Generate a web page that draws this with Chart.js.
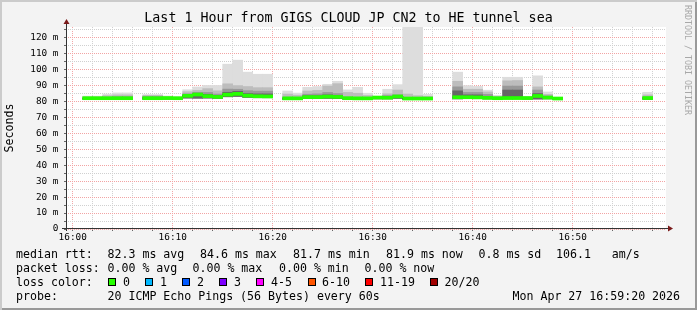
<!DOCTYPE html>
<html>
<head>
<meta charset="utf-8">
<script src="https://cdn.jsdelivr.net/npm/chart.js@4.4.1/dist/chart.umd.min.js"></script>
<style>
  html, body { margin: 0; padding: 0; background: #f3f3f3; }
  #frame { position: relative; width: 697px; height: 310px; background: #f3f3f3; overflow: hidden;
           box-shadow: inset 2px 2px 0 #cbcbcb, inset -2px -2px 0 #999; }
  #chart { position: absolute; left: 0; top: 0; }
  .lg { position: absolute; font: 11.6px 'DejaVu Sans Mono', monospace; line-height: 14px; white-space: pre; color: #000; }
  .box { position: absolute; top: 278px; width: 8px; height: 8px; box-sizing: border-box; border: 1px solid #000; }
  #mark { position: absolute; left: 683px; top: 5px; writing-mode: vertical-rl; font: 8.3px 'DejaVu Sans Mono', monospace;
          line-height: 10px; color: #a8a8a8; white-space: pre; }
</style>
</head>
<body>
<div id="frame">
  <canvas id="chart" width="697" height="310"></canvas>
  <div id="mark">RRDTOOL / TOBI OETIKER</div>

  <div class="lg" style="left:16px;top:247px">median rtt:</div>
  <div class="lg" style="left:107.5px;top:247px">82.3 ms avg</div>
  <div class="lg" style="left:200px;top:247px">84.6 ms max</div>
  <div class="lg" style="left:293px;top:247px">81.7 ms min</div>
  <div class="lg" style="left:386px;top:247px">81.9 ms now</div>
  <div class="lg" style="left:478.5px;top:247px">0.8 ms sd</div>
  <div class="lg" style="left:556px;top:247px">106.1   am/s</div>

  <div class="lg" style="left:16px;top:261px">packet loss:</div>
  <div class="lg" style="left:107.5px;top:261px">0.00 % avg</div>
  <div class="lg" style="left:192.5px;top:261px">0.00 % max</div>
  <div class="lg" style="left:279px;top:261px">0.00 % min</div>
  <div class="lg" style="left:364.5px;top:261px">0.00 % now</div>

  <div class="lg" style="left:16px;top:274.5px">loss color:</div>
  <div class="box" style="left:108px;background:#26ff00"></div><div class="lg" style="left:123px;top:274.5px">0</div>
  <div class="box" style="left:145px;background:#00b8ff"></div><div class="lg" style="left:160px;top:274.5px">1</div>
  <div class="box" style="left:182px;background:#0059ff"></div><div class="lg" style="left:197px;top:274.5px">2</div>
  <div class="box" style="left:219px;background:#7e00ff"></div><div class="lg" style="left:234px;top:274.5px">3</div>
  <div class="box" style="left:256px;background:#ff00ff"></div><div class="lg" style="left:271px;top:274.5px">4-5</div>
  <div class="box" style="left:307.5px;background:#ff5500"></div><div class="lg" style="left:322px;top:274.5px">6-10</div>
  <div class="box" style="left:365px;background:#ff0000"></div><div class="lg" style="left:380px;top:274.5px">11-19</div>
  <div class="box" style="left:430px;background:#a10000"></div><div class="lg" style="left:444.5px;top:274.5px">20/20</div>

  <div class="lg" style="left:16px;top:288.5px">probe:</div>
  <div class="lg" style="left:107.5px;top:288.5px">20 ICMP Echo Pings (56 Bytes) every 60s</div>
  <div class="lg" style="left:512.5px;top:288.5px">Mon Apr 27 16:59:20 2026</div>
</div>

<script>
// Last hour of pings, one 60 s step per slot, minutes counted from 16:00
const stepMinute = [1, 2, 3, 4, 5,
  7, 8, 9, 10, 11, 12, 13, 14, 15, 16, 17, 18, 19,
  21, 22, 23, 24, 25, 26, 27, 28, 29, 30, 31, 32, 33, 34, 35,
  38, 39, 40, 41, 42, 43, 44, 45, 46, 47, 48,
  57];

// median rtt (ms)
const median = [81.9, 81.9, 81.9, 81.9, 81.9,
  81.9, 81.9, 82.0, 81.9, 83.4, 84.2, 83.2, 82.7, 84.1, 84.6, 83.5, 83.1, 83.0,
  81.8, 81.8, 82.6, 82.6, 82.9, 82.7, 81.9, 81.8, 81.8, 82.3, 82.2, 83.0, 81.7, 81.7, 81.7,
  82.5, 82.5, 82.4, 82.1, 81.9, 82.0, 82.0, 82.0, 83.3, 82.3, 81.7,
  82.0];

// smoke: fastest and slowest ping of each step
const pingMin = [81.2, 81.2, 81.2, 81.2, 81.2,
  81.2, 81.2, 81.3, 81.3, 82.0, 81.9, 82.0, 81.8, 82.8, 83.0, 82.4, 82.2, 82.2,
  81.0, 81.0, 81.6, 81.6, 81.8, 81.6, 81.2, 81.0, 81.1, 81.5, 81.5, 81.8, 81.0, 81.0, 81.0,
  81.5, 81.8, 81.8, 81.5, 81.2, 81.5, 81.5, 81.3, 81.4, 81.5, 81.2,
  81.2];
const pingMax = [83.2, 83.2, 84.5, 85.2, 85.2,
  84.2, 84.2, 83.3, 82.8, 87.2, 88.9, 89.9, 89.9, 103.2, 105.7, 98.2, 96.9, 96.9,
  86.4, 85.1, 88.7, 89.2, 90.6, 92.5, 87.1, 88.7, 85.0, 83.1, 87.5, 90.4, 140, 140, 84.3,
  98.2, 89.8, 89.3, 86.9, 83.7, 95.0, 95.0, 83.0, 95.9, 85.8, 82.3,
  85.6];

// inner smoke bands (upper edges, darker towards the middle pings)
const upperQ = [82.6, 82.6, 83.5, 84.0, 84.0,
  83.7, 83.7, 82.6, 82.4, 86.0, 86.8, 87.9, 86.5, 90.9, 89.8, 89.2, 88.5, 88.5,
  84.5, 83.8, 86.4, 86.8, 89.5, 91.0, 85.5, 85.0, 83.6, 82.8, 84.7, 87.0, 84.5, 83.5, 83.0,
  92.5, 87.5, 87.5, 85.8, 83.0, 92.8, 93.0, 82.6, 89.0, 84.3, 82.2,
  84.0];
const upperMid = [82.0, 82.0, 82.3, 82.8, 82.8,
  83.0, 83.0, 82.0, 82.0, 84.6, 85.6, 85.5, 84.5, 87.6, 87.5, 86.6, 86.3, 86.3,
  82.5, 82.3, 84.4, 84.6, 85.5, 84.8, 82.6, 82.4, 82.2, 82.5, 83.5, 84.0, 82.4, 82.3, 82.2,
  89.0, 85.5, 85.5, 84.3, 82.5, 89.5, 89.5, 82.3, 87.0, 83.3, 82.0,
  82.6];
const upperCore = [81.9, 81.9, 81.9, 82.2, 82.2,
  82.4, 82.4, 81.9, 81.9, 83.9, 84.8, 84.3, 83.6, 85.6, 86.2, 84.8, 84.6, 84.6,
  81.9, 81.9, 83.4, 83.4, 84.0, 83.6, 81.9, 81.9, 81.8, 82.3, 82.5, 83.2, 81.8, 81.8, 81.8,
  86.5, 84.0, 84.0, 83.0, 82.0, 87.0, 87.0, 82.1, 84.8, 82.7, 81.8,
  82.1];

// axis ticks
const gridMinutes = [0, 2, 4, 6, 8, 10, 12, 14, 16, 18, 20, 22, 24, 26, 28, 30, 32, 34, 36, 38, 40, 42, 44, 46, 48, 50, 52, 54, 56, 58];
const timeLabels = ['16:00', '16:10', '16:20', '16:30', '16:40', '16:50'];
const gridMs = [0, 5, 10, 15, 20, 25, 30, 35, 40, 45, 50, 55, 60, 65, 70, 75, 80, 85, 90, 95, 100, 105, 110, 115, 120, 125];
const msLabels = ['0', '10 m', '20 m', '30 m', '40 m', '50 m', '60 m', '70 m', '80 m', '90 m', '100 m', '110 m', '120 m'];

const xMin = -0.67, xMax = 59.33;   // 15:59:20 .. 16:59:20
const yMax = 126.5;
const medianHalf = 0.95;            // half height of the loss coloured median band

const majorGrid = '#f2a4a4';
const minorGrid = '#d0d0d0';

Chart.defaults.font.family = "'DejaVu Sans Mono', monospace";
Chart.defaults.color = '#000';

function band(lo, hi, color, order) {
  return {
    type: 'bar',
    data: stepMinute.map((m, i) => ({ x: m + 0.5, y: [lo[i], hi[i]] })),
    backgroundColor: color,
    borderWidth: 0,
    barPercentage: 1,
    categoryPercentage: 1,
    grouped: false,
    order: order
  };
}

// black median line underneath the green band (breaks where steps are missing)
const medianLine = [];
stepMinute.forEach((m, i) => {
  medianLine.push({ x: m, y: median[i] }, { x: m + 1, y: median[i] });
  if (stepMinute[i + 1] !== m + 1) medianLine.push({ x: m + 1, y: null });
});

const medLo = median.map(v => v - medianHalf);
const medHi = median.map(v => v + medianHalf);

const frameLayer = {
  id: 'frameLayer',
  beforeDraw(chart) {
    const { ctx, chartArea: a } = chart;
    ctx.save();
    ctx.fillStyle = '#ffffff';
    ctx.fillRect(a.left, a.top, a.right - a.left, a.bottom - a.top);
    ctx.restore();
  },
  afterDraw(chart) {
    const { ctx, chartArea: a } = chart;
    ctx.save();
    ctx.strokeStyle = '#333';
    ctx.lineWidth = 1;
    ctx.beginPath();
    ctx.moveTo(a.left + 0.5, a.bottom + 2);
    ctx.lineTo(a.left + 0.5, a.top - 4);
    ctx.moveTo(a.left - 4, a.bottom - 0.5);
    ctx.lineTo(a.right + 2, a.bottom - 0.5);
    ctx.stroke();
    ctx.fillStyle = '#7a1a1a';
    ctx.beginPath();
    ctx.moveTo(a.left + 0.5, a.top - 8);
    ctx.lineTo(a.left - 2.5, a.top - 3);
    ctx.lineTo(a.left + 3.5, a.top - 3);
    ctx.closePath();
    ctx.fill();
    ctx.beginPath();
    ctx.moveTo(a.right + 7, a.bottom - 0.5);
    ctx.lineTo(a.right + 2, a.bottom - 3.5);
    ctx.lineTo(a.right + 2, a.bottom + 2.5);
    ctx.closePath();
    ctx.fill();
    ctx.restore();
  }
};

const gridColor = c => (c.tick && c.tick.value % 10 === 0 ? majorGrid : minorGrid);

new Chart(document.getElementById('chart'), {
  type: 'bar',
  data: {
    datasets: [
      band(medLo, medHi, '#26ff00', 0),
      {
        type: 'line',
        data: medianLine,
        borderColor: '#202020',
        borderWidth: 1,
        pointRadius: 0,
        spanGaps: false,
        order: 1
      },
      band(pingMin, upperCore, '#666666', 2),
      band(pingMin, upperMid, '#999999', 3),
      band(pingMin, upperQ, '#bdbdbd', 4),
      band(pingMin, pingMax, '#dddddd', 5)
    ]
  },
  options: {
    responsive: false,
    animation: false,
    events: [],
    layout: { padding: 0 },
    plugins: {
      legend: { display: false },
      tooltip: { enabled: false },
      title: {
        display: true,
        text: 'Last 1 Hour from GIGS CLOUD JP CN2 to HE tunnel sea',
        font: { size: 13.3, weight: 'normal' },
        color: '#000',
        padding: { top: 11, bottom: 0 },
        fullSize: true
      }
    },
    scales: {
      x: {
        type: 'linear',
        min: xMin,
        max: xMax,
        offset: false,
        z: 1,
        afterBuildTicks: s => { s.ticks = gridMinutes.map(v => ({ value: v })); },
        afterFit: s => { s.height = 81; },
        grid: { offset: false, color: gridColor, lineWidth: 1, tickLength: 2, tickColor: '#666' },
        border: { display: false, dash: [1, 1] },
        ticks: {
          autoSkip: false, maxRotation: 0, padding: 1,
          font: { size: 9.4 }, color: '#000',
          callback: v => (v % 10 === 0 ? timeLabels[v / 10] : '')
        }
      },
      y: {
        type: 'linear',
        min: 0,
        max: yMax,
        z: 1,
        afterBuildTicks: s => { s.ticks = gridMs.map(v => ({ value: v })); },
        afterFit: s => { s.width = 66; },
        grid: { color: gridColor, lineWidth: 1, tickLength: 2, tickColor: '#666' },
        border: { display: false, dash: [1, 1] },
        ticks: {
          autoSkip: false, padding: 5.5,
          font: { size: 9.4 }, color: '#000',
          callback: v => (v % 10 === 0 ? msLabels[v / 10] : '')
        },
        title: { display: true, text: 'Seconds', font: { size: 11.6 }, color: '#000', padding: { top: 3, bottom: 0 } }
      },
      yR: {
        type: 'linear',
        position: 'right',
        display: true,
        afterFit: s => { s.width = 31; },
        grid: { display: false, drawTicks: false },
        border: { display: false },
        ticks: { display: false }
      }
    }
  },
  plugins: [frameLayer]
});
</script>
</body>
</html>
